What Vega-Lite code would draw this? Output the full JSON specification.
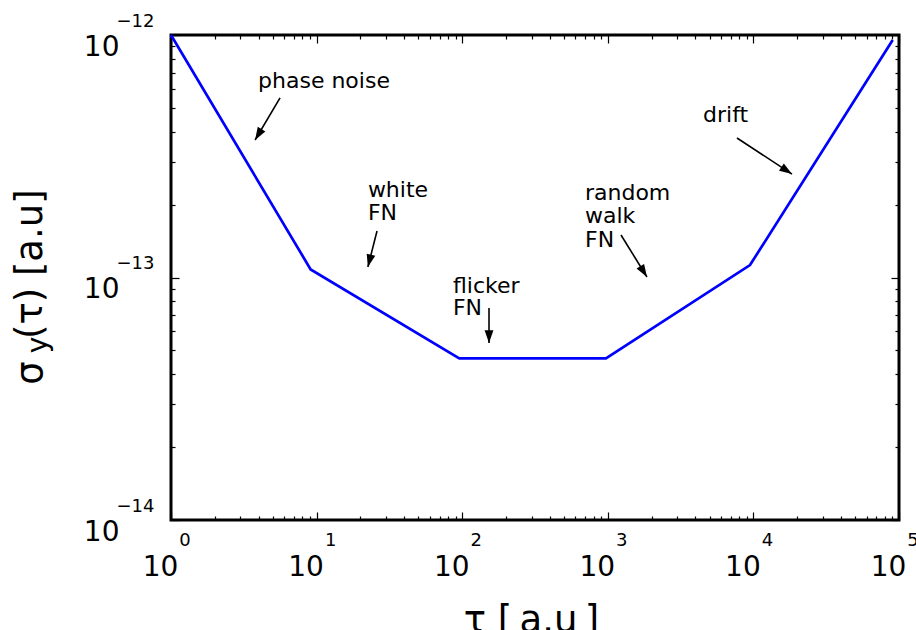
{
  "$schema": "https://vega.github.io/schema/vega-lite/v6.json",
  "width": 728,
  "height": 485,
  "autosize": {"type": "none"},
  "padding": {"left": 171, "top": 35, "right": 17, "bottom": 110},
  "background": "white",
  "config": {
    "view": {"stroke": "black", "strokeWidth": 3},
    "font": "DejaVu Sans"
  },
  "datasets": {
    "curve": [
      {"tau": 1, "sigma": 1e-12},
      {"tau": 9.1, "sigma": 1.08e-13},
      {"tau": 95.5, "sigma": 4.64e-14},
      {"tau": 971, "sigma": 4.64e-14},
      {"tau": 9476, "sigma": 1.125e-13},
      {"tau": 90500, "sigma": 9.54e-13}
    ],
    "arrows": [
      {"name": "phase noise", "x1": 5.61, "y1": 5.5e-13, "x2": 3.78, "y2": 3.69e-13},
      {"name": "white FN", "x1": 26.0, "y1": 1.556e-13, "x2": 22.5, "y2": 1.105e-13},
      {"name": "flicker FN", "x1": 152.8, "y1": 7.48e-14, "x2": 152.8, "y2": 5.37e-14},
      {"name": "random walk FN", "x1": 1232, "y1": 1.497e-13, "x2": 1858, "y2": 1.005e-13},
      {"name": "drift", "x1": 7713, "y1": 3.76e-13, "x2": 18410, "y2": 2.67e-13}
    ],
    "notes": [
      {"text": "phase noise", "x": 3.96, "y": 6.04e-13},
      {"text": "white", "x": 22.5, "y": 2.15e-13},
      {"text": "FN", "x": 22.5, "y": 1.726e-13},
      {"text": "flicker", "x": 86.4, "y": 8.63e-14},
      {"text": "FN", "x": 86.4, "y": 7.0e-14},
      {"text": "random", "x": 697, "y": 2.09e-13},
      {"text": "walk", "x": 697, "y": 1.68e-13},
      {"text": "FN", "x": 697, "y": 1.336e-13},
      {"text": "drift", "x": 4508, "y": 4.38e-13}
    ],
    "xexp": [
      {"t": 1, "e": "0"}, {"t": 10, "e": "1"}, {"t": 100, "e": "2"},
      {"t": 1000, "e": "3"}, {"t": 10000, "e": "4"}, {"t": 100000, "e": "5"}
    ],
    "yexp": [
      {"v": 1e-14, "e": "−14"}, {"v": 1e-13, "e": "−13"}, {"v": 1e-12, "e": "−12"}
    ],
    "ysub": [{"v": 5.27e-14, "e": "y"}]
  },
  "resolve": {"axis": {"x": "independent", "y": "independent"}},
  "layer": [
    {
      "data": {"name": "curve"},
      "mark": {"type": "line", "color": "#0000ff", "strokeWidth": 2.7, "clip": false},
      "encoding": {
        "x": {
          "field": "tau", "type": "quantitative",
          "scale": {"type": "log", "domain": [1, 100000], "nice": false},
          "axis": {
            "orient": "bottom",
            "values": [1,2,3,4,5,6,7,8,9,10,20,30,40,50,60,70,80,90,100,200,300,400,500,600,700,800,900,1000,2000,3000,4000,5000,6000,7000,8000,9000,10000,20000,30000,40000,50000,60000,70000,80000,90000,100000],
            "labelExpr": "indexof([1,10,100,1000,10000,100000], datum.value) >= 0 ? '10' : ''",
            "tickSize": {"condition": {"test": "indexof([1,10,100,1000,10000,100000], datum.value) >= 0", "value": -8}, "value": -4},
            "tickColor": "black", "tickWidth": 1.2,
            "domain": false, "grid": false,
            "labelFont": "DejaVu Sans", "labelFontSize": 28, "labelColor": "black",
            "labelBaseline": "alphabetic", "labelPadding": 63, "labelOffset": -11,
            "labelOverlap": false, "labelFlush": false, "labelBound": false,
            "title": "τ [\u2009a.u\u2009]",
            "titleFont": "DejaVu Sans", "titleFontSize": 37, "titleFontWeight": "normal", "titleColor": "black",
            "titleBaseline": "alphabetic", "titleAlign": "center", "titleX": 360, "titleY": 111
          }
        },
        "y": {
          "field": "sigma", "type": "quantitative",
          "scale": {"type": "log", "domain": [1e-14, 1e-12], "nice": false},
          "axis": {
            "orient": "left",
            "values": [1e-14,2e-14,3e-14,4e-14,5e-14,6e-14,7e-14,8e-14,9e-14,1e-13,2e-13,3e-13,4e-13,5e-13,6e-13,7e-13,8e-13,9e-13,1e-12],
            "labelExpr": "indexof([1e-14,1e-13,1e-12], datum.value) >= 0 ? '10' : ''",
            "tickSize": {"condition": {"test": "indexof([1e-14,1e-13,1e-12], datum.value) >= 0", "value": -8}, "value": -4},
            "tickColor": "black", "tickWidth": 1.2,
            "domain": false, "grid": false,
            "labelFont": "DejaVu Sans", "labelFontSize": 28, "labelColor": "black",
            "labelBaseline": "alphabetic", "labelAlign": "right", "labelPadding": 60, "labelOffset": 20,
            "labelOverlap": false, "labelFlush": false, "labelBound": false,
            "title": "σ\u2002\u200a(τ) [a.u]",
            "titleFont": "DejaVu Sans", "titleFontSize": 37, "titleFontWeight": "normal", "titleColor": "black",
            "titleAngle": 270, "titleBaseline": "alphabetic", "titleAlign": "center", "titleX": -130, "titleY": 251.5
          }
        }
      }
    },
    {
      "data": {"name": "curve"},
      "mark": {"type": "line", "opacity": 0, "clip": false},
      "encoding": {
        "x": {
          "field": "tau", "type": "quantitative",
          "scale": {"type": "log", "domain": [1, 100000], "nice": false},
          "axis": {
            "orient": "top",
            "values": [1,2,3,4,5,6,7,8,9,10,20,30,40,50,60,70,80,90,100,200,300,400,500,600,700,800,900,1000,2000,3000,4000,5000,6000,7000,8000,9000,10000,20000,30000,40000,50000,60000,70000,80000,90000,100000],
            "labels": false,
            "tickSize": {"condition": {"test": "indexof([1,10,100,1000,10000,100000], datum.value) >= 0", "value": -8}, "value": -4},
            "tickColor": "black", "tickWidth": 1.2,
            "domain": false, "grid": false, "title": null
          }
        },
        "y": {
          "field": "sigma", "type": "quantitative",
          "scale": {"type": "log", "domain": [1e-14, 1e-12], "nice": false},
          "axis": {
            "orient": "right",
            "values": [1e-14,2e-14,3e-14,4e-14,5e-14,6e-14,7e-14,8e-14,9e-14,1e-13,2e-13,3e-13,4e-13,5e-13,6e-13,7e-13,8e-13,9e-13,1e-12],
            "labels": false,
            "tickSize": {"condition": {"test": "indexof([1e-14,1e-13,1e-12], datum.value) >= 0", "value": -8}, "value": -4},
            "tickColor": "black", "tickWidth": 1.2,
            "domain": false, "grid": false, "title": null
          }
        }
      }
    },
    {
      "data": {"name": "arrows"},
      "mark": {"type": "rule", "color": "black", "strokeWidth": 1.6},
      "encoding": {
        "x": {"field": "x1", "type": "quantitative", "scale": {"type": "log", "domain": [1, 100000], "nice": false}, "axis": null},
        "y": {"field": "y1", "type": "quantitative", "scale": {"type": "log", "domain": [1e-14, 1e-12], "nice": false}, "axis": null},
        "x2": {"field": "x2"},
        "y2": {"field": "y2"}
      }
    },
    {
      "data": {"name": "arrows"},
      "mark": {
        "type": "point", "shape": "M0,0L0.7,2L-0.7,2Z", "filled": true, "color": "black",
        "opacity": 1, "size": 160, "strokeWidth": 0,
        "angle": {"expr": "atan2(scale('x', datum.x2) - scale('x', datum.x1), scale('y', datum.y1) - scale('y', datum.y2)) * 180 / PI"}
      },
      "encoding": {
        "x": {"field": "x2", "type": "quantitative", "scale": {"type": "log", "domain": [1, 100000], "nice": false}, "axis": null},
        "y": {"field": "y2", "type": "quantitative", "scale": {"type": "log", "domain": [1e-14, 1e-12], "nice": false}, "axis": null}
      }
    },
    {
      "data": {"name": "notes"},
      "mark": {"type": "text", "align": "left", "baseline": "alphabetic", "font": "DejaVu Sans", "fontSize": 22, "color": "black"},
      "encoding": {
        "x": {"field": "x", "type": "quantitative", "scale": {"type": "log", "domain": [1, 100000], "nice": false}, "axis": null},
        "y": {"field": "y", "type": "quantitative", "scale": {"type": "log", "domain": [1e-14, 1e-12], "nice": false}, "axis": null},
        "text": {"field": "text"}
      }
    },
    {
      "data": {"name": "xexp"},
      "mark": {"type": "text", "align": "center", "baseline": "alphabetic", "font": "DejaVu Sans", "fontSize": 18, "color": "black", "dx": 14, "dy": 26},
      "encoding": {
        "x": {"field": "t", "type": "quantitative", "scale": {"type": "log", "domain": [1, 100000], "nice": false}, "axis": null},
        "y": {"datum": 1e-14, "type": "quantitative", "scale": {"type": "log", "domain": [1e-14, 1e-12], "nice": false}, "axis": null},
        "text": {"field": "e"}
      }
    },
    {
      "data": {"name": "yexp"},
      "mark": {"type": "text", "align": "center", "baseline": "alphabetic", "font": "DejaVu Sans", "fontSize": 18, "color": "black", "dx": -35.5, "dy": -8.3},
      "encoding": {
        "x": {"datum": 1, "type": "quantitative", "scale": {"type": "log", "domain": [1, 100000], "nice": false}, "axis": null},
        "y": {"field": "v", "type": "quantitative", "scale": {"type": "log", "domain": [1e-14, 1e-12], "nice": false}, "axis": null},
        "text": {"field": "e"}
      }
    },
    {
      "data": {"name": "ysub"},
      "mark": {"type": "text", "align": "center", "baseline": "alphabetic", "font": "DejaVu Sans", "fontSize": 28, "color": "black", "angle": 270, "dy": -124},
      "encoding": {
        "x": {"datum": 1, "type": "quantitative", "scale": {"type": "log", "domain": [1, 100000], "nice": false}, "axis": null},
        "y": {"field": "v", "type": "quantitative", "scale": {"type": "log", "domain": [1e-14, 1e-12], "nice": false}, "axis": null},
        "text": {"field": "e"}
      }
    }
  ]
}
